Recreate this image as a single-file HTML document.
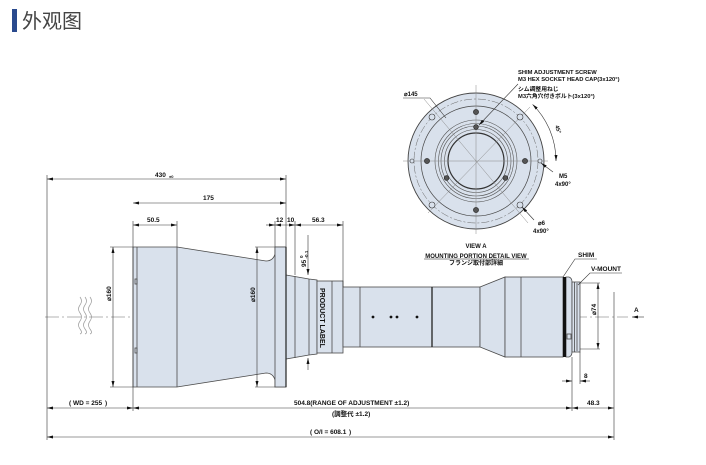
<!DOCTYPE html>
<html><head><meta charset="utf-8"><style>
html,body{margin:0;padding:0;background:#fff;}
svg{display:block;}
text{font-family:"Liberation Sans","Noto Sans CJK JP",sans-serif;font-weight:bold;fill:#111;}
</style></head><body>
<svg width="706" height="465" viewBox="0 0 706 465" xmlns="http://www.w3.org/2000/svg">
<defs>
<marker id="a" viewBox="0 0 8 4" refX="8" refY="2" markerWidth="6" markerHeight="3" orient="auto-start-reverse" markerUnits="userSpaceOnUse"><path d="M0,0 L8,2 L0,4 z" fill="#111"/></marker>
</defs>
<!-- title -->
<rect x="12" y="9" width="5" height="23" fill="#2a4a8e"/>
<text x="22" y="28" style="font-family:'Noto Sans CJK SC',sans-serif;font-weight:normal;font-size:20px;fill:#444">外观图</text>

<!-- centerline -->
<line x1="45" y1="317" x2="628" y2="317" stroke="#9a9a9a" stroke-width="0.8" stroke-dasharray="14 3 2 3"/>
<!-- wavy break -->
<g fill="none" stroke="#999" stroke-width="0.7">
<path d="M80,297 q3,4 0,8 q-3,4 0,8 q3,4 0,8 q-3,4 0,8 q3,4 0,5"/>
<path d="M85,297 q3,4 0,8 q-3,4 0,8 q3,4 0,8 q-3,4 0,8 q3,4 0,5"/>
<path d="M90,297 q3,4 0,8 q-3,4 0,8 q3,4 0,8 q-3,4 0,8 q3,4 0,5"/>
</g>

<!-- body -->
<g fill="#d9e1ec" stroke="#4a4a4a" stroke-width="0.8">
<path d="M133,247 H177 L266,261 Q273,261 275,254 V247 H286 V387 H275 V380 Q273,373 266,373 L177,387 H133 Z"/>
<rect x="275" y="247" width="11" height="140"/>
<path d="M286,275 L309,279 L317,280 V354 L309,355 L286,359 Z"/>
<rect x="317" y="281" width="26" height="72"/>
<rect x="343" y="287" width="137" height="60"/>
<path d="M480,287 L505,277 V357 L480,347 Z"/>
<rect x="505" y="277" width="58" height="80"/>
<path d="M566,277 H569 Q572,278 572,282 V352 Q572,356 569,357 H566 Z"/>
<rect x="572" y="282" width="8" height="70"/>
</g>
<rect x="563" y="277" width="3" height="80" fill="#111"/>
<g stroke="#4a4a4a" stroke-width="0.8" fill="none">
<line x1="137" y1="247" x2="137" y2="387"/>
<line x1="177" y1="247" x2="177" y2="387"/>
<line x1="295" y1="276" x2="295" y2="358"/>
<line x1="309" y1="279" x2="309" y2="355"/>
<line x1="332" y1="281" x2="332" y2="353"/>
<line x1="360" y1="287" x2="360" y2="347"/>
<line x1="432" y1="287" x2="432" y2="347" stroke-width="1.3" stroke="#222"/>
<line x1="521" y1="277" x2="521" y2="357"/>
<line x1="574.5" y1="282" x2="574.5" y2="352"/>
<line x1="577" y1="283" x2="577" y2="351"/>
<line x1="286" y1="247" x2="286" y2="387" stroke-width="1.2" stroke="#222"/>
<rect x="135" y="279" width="2" height="5"/>
<rect x="135" y="348" width="2" height="5"/>
<rect x="567" y="334" width="4" height="5"/>
</g>
<g fill="#111">
<circle cx="373" cy="317" r="1.4"/><circle cx="391" cy="317" r="1.4"/><circle cx="397" cy="317" r="1.4"/><circle cx="417" cy="317" r="1.4"/>
</g>
<text transform="translate(320,288) rotate(90)" font-size="7">PRODUCT LABEL</text>

<!-- extension lines -->
<g stroke="#333" stroke-width="0.6" fill="none">
<line x1="47" y1="175" x2="47" y2="440"/>
<line x1="133" y1="221" x2="133" y2="411"/>
<line x1="177" y1="221" x2="177" y2="247"/>
<line x1="275" y1="221" x2="275" y2="247"/>
<line x1="286" y1="175" x2="286" y2="247"/>
<line x1="295" y1="221" x2="295" y2="275"/>
<line x1="343" y1="221" x2="343" y2="287"/>
<line x1="572" y1="357" x2="572" y2="411"/>
<line x1="580" y1="352" x2="580" y2="384"/>
<line x1="614" y1="292" x2="614" y2="440"/>
<line x1="110" y1="247" x2="133" y2="247"/>
<line x1="110" y1="387" x2="133" y2="387"/>
<line x1="255" y1="247" x2="275" y2="247"/>
<line x1="255" y1="387" x2="275" y2="387"/>
<line x1="580" y1="283" x2="600" y2="283"/>
<line x1="580" y1="349" x2="600" y2="349"/>
</g>
<!-- dimension lines -->
<g stroke="#333" stroke-width="0.6" fill="none">
<line x1="47" y1="179" x2="286" y2="179" marker-start="url(#a)" marker-end="url(#a)"/>
<line x1="133" y1="203" x2="286" y2="203" marker-start="url(#a)" marker-end="url(#a)"/>
<line x1="133" y1="225" x2="177" y2="225" marker-start="url(#a)" marker-end="url(#a)"/>
<line x1="266" y1="225" x2="275" y2="225" marker-end="url(#a)"/>
<line x1="275" y1="225" x2="295" y2="225" marker-start="url(#a)" marker-end="url(#a)"/>
<line x1="295" y1="225" x2="343" y2="225" marker-start="url(#a)" marker-end="url(#a)"/>
<line x1="113" y1="247" x2="113" y2="387" marker-start="url(#a)" marker-end="url(#a)"/>
<line x1="257" y1="247" x2="257" y2="387" marker-start="url(#a)" marker-end="url(#a)"/>
<line x1="308" y1="235" x2="308" y2="275" marker-end="url(#a)"/>
<line x1="308" y1="370" x2="308" y2="358" marker-end="url(#a)"/>
<line x1="598" y1="283" x2="598" y2="349" marker-start="url(#a)" marker-end="url(#a)"/>
<line x1="47" y1="408" x2="133" y2="408" marker-start="url(#a)" marker-end="url(#a)"/>
<line x1="133" y1="408" x2="572" y2="408" marker-start="url(#a)" marker-end="url(#a)"/>
<line x1="572" y1="408" x2="614" y2="408" marker-start="url(#a)" marker-end="url(#a)"/>
<line x1="47" y1="437" x2="614" y2="437" marker-start="url(#a)" marker-end="url(#a)"/>
<line x1="562" y1="381" x2="572" y2="381" marker-end="url(#a)"/>
<line x1="590" y1="381" x2="580" y2="381" marker-end="url(#a)"/>
<line x1="644" y1="317" x2="632" y2="317" marker-end="url(#a)"/>
</g>
<!-- dimension texts -->
<g font-size="6.5">
<text x="155" y="177">430</text><text x="169" y="178" font-size="4">±0</text>
<text x="203" y="200">175</text>
<text x="147" y="222">50.5</text>
<text x="276" y="222">12</text><text x="287" y="222">10</text>
<text x="312" y="222">56.3</text>
<text transform="translate(111,301) rotate(-90)">⌀160</text>
<text transform="translate(255,302) rotate(-90)">⌀160</text>
<text transform="translate(306,267) rotate(-90)">95 <tspan font-size="4.5" dy="-3">0</tspan><tspan font-size="4.5" dx="-3" dy="5">-0.1</tspan></text>
<text transform="translate(596,315) rotate(-90)">⌀74</text>
<text x="584" y="378">8</text>
<text x="587" y="405">48.3</text>
<text x="634" y="312">A</text>
<text x="69" y="405" font-weight="normal">(</text><text x="73" y="405">WD = 255</text><text x="105" y="405" font-weight="normal">)</text>
<text x="294" y="405">504.8(RANGE OF ADJUSTMENT ±1.2)</text>
<text x="332" y="416" style="font-family:'Liberation Sans','Noto Sans CJK JP',sans-serif">(調整代 ±1.2)</text>
<text x="310" y="434" font-weight="normal">(</text><text x="314" y="434">O/I = 608.1</text><text x="349" y="434" font-weight="normal">)</text>
<text x="578" y="257">SHIM</text>
<text x="591" y="271">V-MOUNT</text>
</g>
<g stroke="#333" stroke-width="0.6" fill="none">
<polyline points="563,277 575,259 597,259"/>
<polyline points="578,285 590,273 622,273"/>
</g>

<!-- VIEW A -->
<g>
<circle cx="476" cy="161" r="68" fill="#d9e1ec" stroke="#444" stroke-width="0.9"/>
<circle cx="476" cy="161" r="62" fill="none" stroke="#666" stroke-width="0.5" stroke-dasharray="8 2 2 2"/>
<circle cx="476" cy="161" r="55" fill="none" stroke="#444" stroke-width="0.7"/>
<circle cx="476" cy="161" r="41" fill="none" stroke="#555" stroke-width="0.6"/>
<circle cx="476" cy="161" r="37.5" fill="none" stroke="#555" stroke-width="0.6"/>
<circle cx="476" cy="161" r="35" fill="none" stroke="#555" stroke-width="0.6"/>
<circle cx="476" cy="161" r="31.5" fill="none" stroke="#555" stroke-width="0.6"/>
<circle cx="476" cy="161" r="28" fill="#d9e1ec" stroke="#333" stroke-width="1.2"/>
<g stroke="#888" stroke-width="0.5" fill="none">
<line x1="476" y1="85" x2="476" y2="234"/>
<line x1="403" y1="161" x2="548" y2="161"/>
<line x1="424" y1="99" x2="528" y2="223"/>
<line x1="530" y1="107" x2="428" y2="213"/>
</g>
<g fill="#d9e1ec" stroke="#333" stroke-width="0.6">
<circle cx="432" cy="117" r="3"/><circle cx="520" cy="117" r="3"/><circle cx="432" cy="205" r="3"/><circle cx="520" cy="205" r="3"/>
<circle cx="412" cy="161" r="2"/><circle cx="540" cy="161" r="2"/>
</g>
<g fill="#555" stroke="#222" stroke-width="0.6">
<circle cx="476" cy="112" r="2.6"/><circle cx="476" cy="210" r="2.6"/><circle cx="427" cy="161" r="2.6"/><circle cx="525" cy="161" r="2.6"/>
<circle cx="476" cy="127" r="2.4"/><circle cx="446.6" cy="178" r="2.4"/><circle cx="505.4" cy="178" r="2.4"/>
</g>
<g stroke="#333" stroke-width="0.6" fill="none">
<line x1="518" y1="84" x2="479" y2="125" marker-end="url(#a)"/>
<polyline points="403,98 430,98 446,118"/>
<path d="M532.6,104.4 A80,80 0 0 1 556,161" marker-start="url(#a)" marker-end="url(#a)"/>
<line x1="553" y1="172" x2="541" y2="163" marker-end="url(#a)"/>
<line x1="534" y1="220" x2="522" y2="207" marker-end="url(#a)"/>
</g>
<g font-size="6">
<text x="404" y="96">⌀145</text>
<text x="518" y="74" font-size="5.8">SHIM ADJUSTMENT SCREW</text>
<text x="518" y="81" font-size="5.8">M3 HEX SOCKET HEAD CAP(3x120°)</text>
<text x="518" y="91" font-size="5.8" font-weight="normal">シム調整用ねじ</text>
<text x="518" y="98" font-size="5.8" font-weight="normal">M3六角穴付きボルト(3x120°)</text>
<text transform="translate(555,126) rotate(70)" font-size="5.5">45°</text>
<text x="559" y="178">M5</text>
<text x="555" y="186">4x90°</text>
<text x="538" y="225">⌀6</text>
<text x="533" y="233">4x90°</text>
<text x="476" y="248" text-anchor="middle">VIEW A</text>
<text x="476" y="258" text-anchor="middle">MOUNTING PORTION DETAIL VIEW</text>
<text x="476" y="265" text-anchor="middle" font-weight="normal">フランジ取付部詳細</text>
</g>
<line x1="424" y1="259" x2="529" y2="259" stroke="#111" stroke-width="0.5"/>
</g>
</svg>
</body></html>
